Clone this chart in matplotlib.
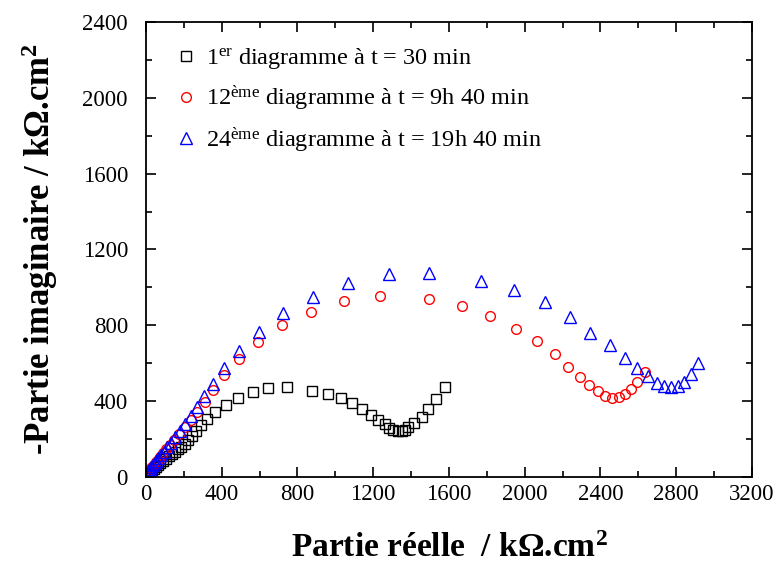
import matplotlib
matplotlib.use("Agg")
import matplotlib.pyplot as plt
from matplotlib.ticker import MultipleLocator

plt.rcParams['font.family'] = 'Liberation Serif'
plt.rcParams['mathtext.fontset'] = 'custom'
plt.rcParams['mathtext.rm'] = 'Liberation Serif'
plt.rcParams['mathtext.it'] = 'Liberation Serif:italic'
plt.rcParams['mathtext.bf'] = 'Liberation Serif:bold'

# 1er diagramme, t = 30 min
x1 = [15, 22, 30, 40, 51, 63, 76, 90, 105, 120, 136, 152, 168, 185, 206, 223, 241, 262,
      289, 320, 364, 421, 487, 567, 646, 743, 875, 960, 1028, 1086, 1142, 1188, 1227,
      1262, 1285, 1306, 1332, 1350, 1367, 1385, 1417, 1459, 1491, 1530, 1577]
y1 = [22, 28, 35, 43, 52, 62, 72, 83, 95, 108, 121, 134, 147, 160, 174, 195, 218, 241,
      273, 304, 341, 381, 418, 448, 471, 476, 454, 438, 415, 389, 357, 329, 302,
      278, 258, 246, 241, 243, 248, 262, 285, 316, 357, 410, 476]

# 12eme diagramme, t = 9h 40 min
x12 = [12, 18, 25, 33, 42, 52, 63, 76, 91, 108, 127, 149, 175, 205, 238, 272, 311, 352,
       410, 489, 590, 720, 871, 1045, 1235, 1496, 1668, 1818, 1952, 2063, 2158, 2230,
       2291, 2341, 2385, 2423, 2462, 2499, 2529, 2559, 2591, 2635]
y12 = [29, 37, 45, 55, 65, 77, 91, 106, 124, 145, 167, 194, 225, 261, 300, 341, 397, 459,
       538, 622, 714, 802, 872, 928, 955, 937, 900, 849, 782, 716, 647, 582,
       529, 485, 452, 427, 417, 420, 438, 464, 503, 552]

# 24eme diagramme, t = 19h 40 min
x24 = [10, 15, 21, 28, 36, 45, 55, 66, 79, 94, 111, 130, 152, 177, 205, 236, 270, 306,
       352, 413, 491, 597, 725, 883, 1065, 1281, 1493, 1767, 1945, 2105, 2239, 2345,
       2450, 2529, 2594, 2650, 2696, 2733, 2773, 2810, 2841, 2878, 2916]
y24 = [28, 35, 42, 51, 61, 72, 85, 99, 115, 134, 156, 181, 210, 243, 280, 321, 371, 427,
       490, 573, 666, 766, 863, 951, 1024, 1069, 1077, 1035, 986, 921, 842, 760,
       694, 630, 576, 532, 498, 478, 473, 480, 503, 542, 600]

labels = [r"1$^{\mathrm{er}}$ diagramme à t = 30 min",
          r"12$^{\mathrm{ème}}$ diagramme à t = 9h 40 min",
          r"24$^{\mathrm{ème}}$ diagramme à t = 19h 40 min"]

fig = plt.figure(figsize=(7.79, 5.65), dpi=100)
ax = fig.add_axes([0.1874, 0.1558, 0.7779, 0.8053])

ax.plot(x1, y1, 's', ms=6.5, mfc='none', mec='black', mew=1.0, label=labels[0])
ax.plot(x12, y12, 'o', ms=7, mfc='none', mec='red', mew=1.0, label=labels[1])
ax.plot(x24, y24, '^', ms=8.5, mfc='none', mec='blue', mew=1.0, label=labels[2])

ax.set_xlim(0, 3200)
ax.set_ylim(0, 2400)
ax.xaxis.set_major_locator(MultipleLocator(400))
ax.xaxis.set_minor_locator(MultipleLocator(200))
ax.yaxis.set_major_locator(MultipleLocator(400))
ax.yaxis.set_minor_locator(MultipleLocator(200))
ax.tick_params(which='both', direction='in', top=True, right=True, labelsize=16.5, width=1.2)
ax.tick_params(which='major', length=7)
ax.tick_params(which='minor', length=4)
ax.tick_params(axis='y', which='major', pad=13)
ax.tick_params(axis='x', which='major', pad=5)
for s in ax.spines.values():
    s.set_linewidth(1.3)

ax.set_xlabel(r"Partie réelle  / k$\mathbf{\Omega}$.cm$^{\mathbf{2}}$", fontsize=24, fontweight='bold', labelpad=20)
ax.set_ylabel(r"-Partie imaginaire / k$\mathbf{\Omega}$.cm$^{\mathbf{2}}$", fontsize=25, fontweight='bold', labelpad=16)

ax.legend(loc='upper left', frameon=False, prop={'family': 'Liberation Serif', 'size': 17.5},
          handletextpad=0.15, labelspacing=0.5, borderaxespad=0.6, handlelength=1.3,
          bbox_to_anchor=(0.0, 1.0))

fig.savefig("out.png", dpi=100)
